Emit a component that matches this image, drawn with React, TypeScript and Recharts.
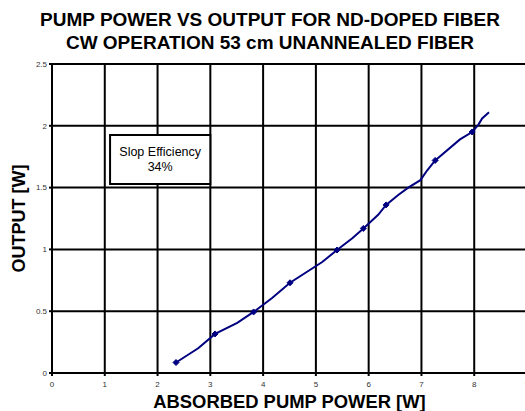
import React from 'react';
import { LineChart, Line, XAxis, YAxis, CartesianGrid, ReferenceArea, Label } from 'recharts';

const pumpPower = [2.35, 2.77, 3.09, 3.51, 3.82, 4.17, 4.51, 5.12, 5.40, 5.69, 5.90, 6.18, 6.33, 6.56, 6.75, 6.98, 7.11, 7.26, 7.73, 7.96, 8.08, 8.15, 8.28];
const outputPower = [0.085, 0.2, 0.316, 0.405, 0.494, 0.607, 0.73, 0.898, 0.995, 1.09, 1.17, 1.28, 1.36, 1.44, 1.5, 1.56, 1.64, 1.72, 1.89, 1.95, 2.01, 2.06, 2.11];
const markerFlags = [1, 0, 1, 0, 1, 0, 1, 0, 1, 0, 1, 0, 1, 0, 0, 0, 0, 1, 0, 1, 0, 0, 0];
const xTicks = [0, 1, 2, 3, 4, 5, 6, 7, 8, 9];
const yTicks = [0, 0.5, 1, 1.5, 2, 2.5];
const titleLines = ['PUMP POWER VS OUTPUT FOR ND-DOPED FIBER', 'CW OPERATION 53 cm UNANNEALED FIBER'];
const boxLines = ['Slop Efficiency', '34%'];
const boxX = [1.1, 3.0];
const boxY = [1.53, 1.925];

const data = pumpPower.map((x, i) => ({ x, y: outputPower[i], m: markerFlags[i] }));

const FONT = '"Liberation Sans", Arial, sans-serif';
const NAVY = '#000080';

const Dot = (props: any) => {
  const { cx, cy, payload, index } = props;
  if (!payload || !payload.m) return <g key={`d${index}`} />;
  const s = 3;
  return (
    <path
      key={`d${index}`}
      d={`M${cx},${cy - s} L${cx + s},${cy} L${cx},${cy + s} L${cx - s},${cy} Z`}
      fill={NAVY}
      stroke={NAVY}
      strokeWidth={1}
    />
  );
};

const BoxLabel = (props: any) => {
  const vb = props.viewBox || {};
  const cx = vb.x + vb.width / 2;
  const cy = vb.y + vb.height / 2;
  return (
    <g>
      <text x={cx} y={cy - 7} textAnchor="middle" dominantBaseline="central" fontFamily={FONT} fontSize={12.5} fill="#000">
        {boxLines[0]}
      </text>
      <text x={cx} y={cy + 8} textAnchor="middle" dominantBaseline="central" fontFamily={FONT} fontSize={12.5} fill="#000">
        {boxLines[1]}
      </text>
    </g>
  );
};

export default function App() {
  return (
    <div style={{ position: 'absolute', left: 0, top: 0, width: 525, height: 411, overflow: 'hidden', background: '#fff' }}>
      <div
        style={{
          position: 'absolute',
          left: 0,
          top: 8,
          width: 540,
          textAlign: 'center',
          fontFamily: FONT,
          fontWeight: 'bold',
          fontSize: 19,
          lineHeight: '23px',
          color: '#000',
          whiteSpace: 'nowrap',
        }}
      >
        <div>{titleLines[0]}</div>
        <div>{titleLines[1]}</div>
      </div>
      <div style={{ position: 'absolute', left: 0, top: 0 }}>
        <LineChart width={545} height={411} data={data} margin={{ top: 64, right: 18, left: 0, bottom: 0 }}>
          <CartesianGrid stroke="#000" strokeWidth={2} />
          <XAxis
            dataKey="x"
            type="number"
            domain={[0, 9]}
            ticks={xTicks}
            interval={0}
            height={38}
            axisLine={{ stroke: '#000', strokeWidth: 2 }}
            tickLine={{ stroke: '#000', strokeWidth: 2 }}
            tickSize={3}
            tickMargin={5}
            tick={{ fontSize: 8, fill: '#333', fontFamily: FONT }}
          >
            <Label value="ABSORBED PUMP POWER [W]" position="center" dy={9} style={{ fontFamily: FONT, fontWeight: 'bold', fontSize: 18.4, fill: '#000' }} />
          </XAxis>
          <YAxis
            dataKey="y"
            type="number"
            domain={[0, 2.5]}
            ticks={yTicks}
            interval={0}
            width={52}
            axisLine={{ stroke: '#000', strokeWidth: 2 }}
            tickLine={{ stroke: '#000', strokeWidth: 2 }}
            tickSize={3}
            tickMargin={2}
            tick={{ fontSize: 8, fill: '#333', fontFamily: FONT }}
          >
            <Label value="OUTPUT [W]" position="center" angle={-90} dx={-7} style={{ fontFamily: FONT, fontWeight: 'bold', fontSize: 18, fill: '#000', textAnchor: 'middle' }} />
          </YAxis>
          <ReferenceArea
            x1={boxX[0]}
            x2={boxX[1]}
            y1={boxY[0]}
            y2={boxY[1]}
            fill="#fff"
            fillOpacity={1}
            stroke="#000"
            strokeWidth={2}
            ifOverflow="visible"
            label={<BoxLabel />}
          />
          <Line
            type="linear"
            dataKey="y"
            stroke={NAVY}
            strokeWidth={2}
            dot={<Dot />}
            activeDot={false}
            isAnimationActive={false}
          />
        </LineChart>
      </div>
    </div>
  );
}
